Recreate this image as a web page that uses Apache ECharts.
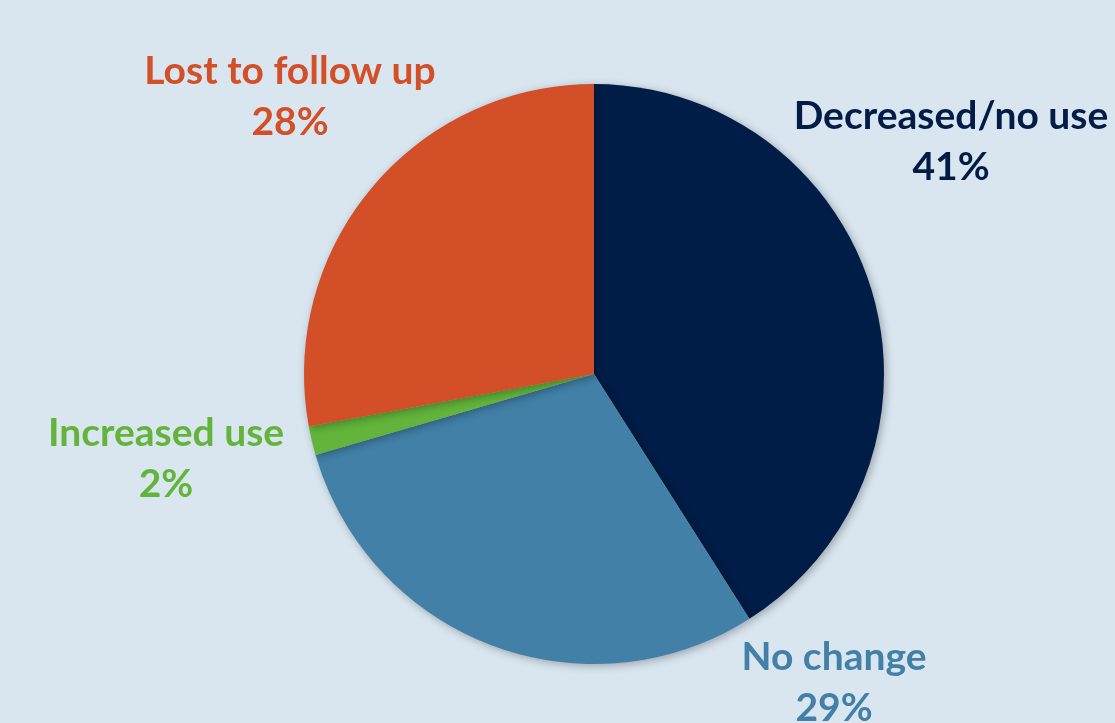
<!DOCTYPE html>
<html>
<head>
<meta charset="utf-8">
<script src="https://cdn.jsdelivr.net/npm/echarts@6/dist/echarts.min.js"></script>
<style>
  html, body { margin: 0; padding: 0; background: #d9e6f0; }
  #chart { width: 1115px; height: 723px; }
</style>
</head>
<body>
<div id="chart"></div>
<script>
const categories = ['Decreased/no use', 'No change', 'Increased use', 'Lost to follow up']
// slice shares; printed labels are rounded
const values = [41.0, 29.5, 1.6, 27.9]
const pctLabels = ['41%', '29%', '2%', '28%']
const colors = ['#001d47', '#4280a8', '#62b43a', '#d34f27']

// where each label block sits (centre of the two-line text)
const labelSpots = [
  [951, 142],
  [834, 683],
  [166, 459],
  [290, 97],
]

const chart = echarts.init(document.getElementById('chart'))

chart.setOption({
  backgroundColor: '#d9e6f0',
  series: [
    {
      type: 'pie',
      center: [594, 374],
      radius: 290,
      startAngle: 90,
      clockwise: true,
      silent: true,
      data: categories.map((name, i) => ({
        name,
        value: values[i],
        itemStyle: { color: colors[i] },
        label: { color: colors[i] },
      })),
      itemStyle: {
        shadowBlur: 8,
        shadowOffsetX: 2,
        shadowOffsetY: 2,
        shadowColor: 'rgba(0,0,0,0.3)',
      },
      label: {
        show: true,
        formatter: (p) => p.name + '\n' + pctLabels[p.dataIndex],
        fontFamily: 'Lato',
        fontWeight: 'bold',
        fontSize: 39,
        lineHeight: 51,
        align: 'center',
        overflow: 'none',
      },
      labelLine: { show: false },
      labelLayout: (params) => ({
        x: labelSpots[params.dataIndex][0],
        y: labelSpots[params.dataIndex][1],
        align: 'center',
        verticalAlign: 'middle',
      }),
    },
  ],
})
</script>
</body>
</html>
